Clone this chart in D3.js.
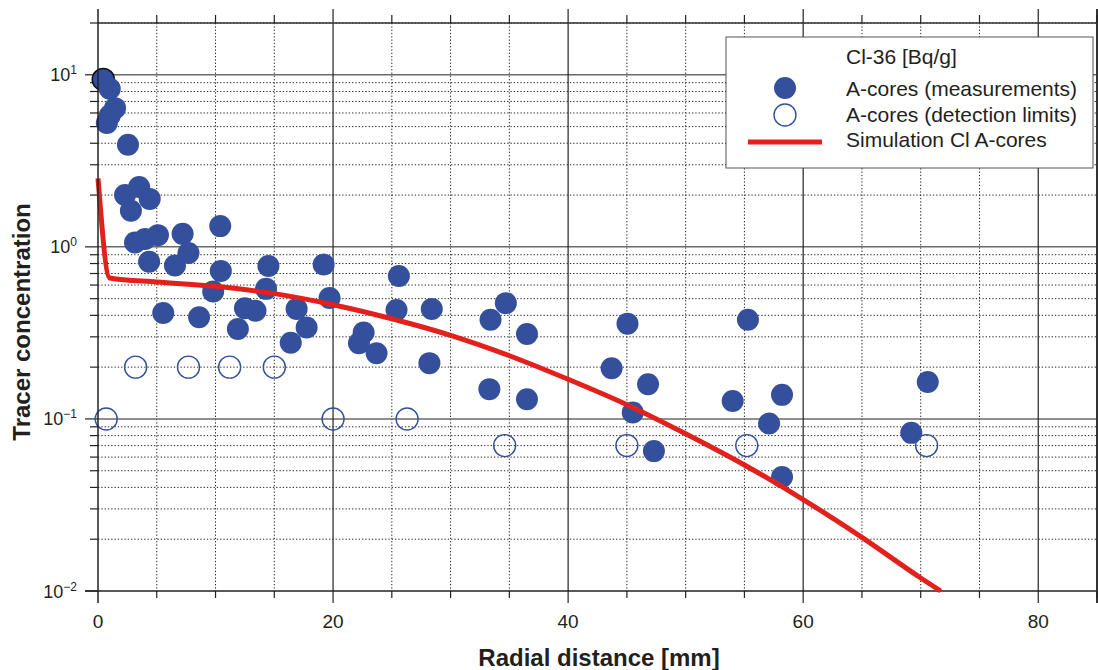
<!DOCTYPE html>
<html>
<head>
<meta charset="utf-8">
<script src="https://cdn.jsdelivr.net/npm/d3@7"></script>
<style>
  body { margin: 0; background: #fff; }
  svg { display: block; font-family: Arial, 'Liberation Sans', sans-serif; }
</style>
</head>
<body>
<div id="chart"></div>
<script>
// measured A-cores (filled markers)
const measX = [0.45, 1.0, 1.45, 1.0, 0.75, 2.55, 2.3, 3.5, 4.4, 2.8, 10.4, 3.15, 4.0, 5.1, 7.2, 7.7,
  4.35, 6.55, 10.45, 9.8, 14.5, 14.3, 5.55, 8.6, 12.5, 13.4, 11.9, 16.9, 16.4, 17.75, 19.2, 19.7,
  25.6, 25.4, 28.4, 22.6, 22.2, 23.7, 28.2, 33.4, 34.7, 36.5, 33.3, 36.5, 45.05, 43.7, 46.8, 45.5,
  47.3, 55.3, 54.0, 58.2, 57.1, 58.2, 70.6, 69.2]
const measY = [9.4, 8.3, 6.4, 5.8, 5.25, 3.92, 2.0, 2.23, 1.9, 1.62, 1.32, 1.06, 1.11, 1.17, 1.19, 0.92,
  0.82, 0.78, 0.725, 0.55, 0.775, 0.57, 0.413, 0.39, 0.44, 0.425, 0.333, 0.436, 0.277, 0.34, 0.79, 0.505,
  0.678, 0.43, 0.435, 0.318, 0.275, 0.241, 0.211, 0.377, 0.471, 0.312, 0.149, 0.13, 0.358, 0.197, 0.159, 0.109,
  0.065, 0.377, 0.127, 0.138, 0.094, 0.046, 0.164, 0.083]

// detection limits (open markers)
const limX = [0.7, 3.2, 7.7, 11.2, 15.0, 20.0, 26.3, 34.6, 45.0, 55.2, 70.5]
const limY = [0.1, 0.2, 0.2, 0.2, 0.2, 0.1, 0.1, 0.07, 0.07, 0.07, 0.07]

// simulation curve
const simX = [0, 1, 5, 10, 15, 20, 25, 30, 35, 40, 45, 50, 55, 60, 65, 70, 71.7]
const simY = [2.5, 0.66, 0.625, 0.59, 0.535, 0.461, 0.382, 0.306, 0.233, 0.17, 0.121, 0.082, 0.054, 0.034, 0.0205, 0.0119, 0.01]

const xMajor = [0, 20, 40, 60, 80]
const yMajor = [0.01, 0.1, 1, 10]
const legendLabels = ['A-cores (measurements)', 'A-cores (detection limits)', 'Simulation Cl A-cores']
const legendTitle = 'Cl-36 [Bq/g]'

const width = 1098
const height = 670
const pLeft = 98, pRight = 1097, pTop = 23, pBottom = 591
const blue = '#34509d'
const red = '#e2211c'
const ink = '#231f20'

const x = d3.scaleLinear().domain([0, 85]).range([pLeft, pRight])
const y = d3.scaleLog().domain([0.01, 20]).range([pBottom, pTop])

const svg = d3.select('#chart').append('svg')
  .attr('width', width)
  .attr('height', height)

const xMinor = d3.range(5, 86, 5).filter(v => !xMajor.includes(v))
const yMinor = []
for (const dec of [0.01, 0.1, 1, 10]) {
  for (let k = 2; k <= 9; k++) {
    const v = +(dec * k).toPrecision(3)
    if (v <= 20) yMinor.push(v)
  }
}

// grid
const grid = svg.append('g')
grid.selectAll('.hmin').data(yMinor).enter().append('line')
  .attr('x1', pLeft).attr('x2', pRight)
  .attr('y1', d => y(d)).attr('y2', d => y(d))
  .attr('stroke', '#222').attr('stroke-width', 1).attr('stroke-dasharray', '1.3,2')
grid.selectAll('.vmin').data(xMinor).enter().append('line')
  .attr('x1', d => x(d)).attr('x2', d => x(d))
  .attr('y1', pTop).attr('y2', pBottom)
  .attr('stroke', '#222').attr('stroke-width', 1).attr('stroke-dasharray', '1.3,2')
grid.selectAll('.hmaj').data(yMajor.slice(1)).enter().append('line')
  .attr('x1', pLeft).attr('x2', pRight)
  .attr('y1', d => y(d)).attr('y2', d => y(d))
  .attr('stroke', '#6a6a6a').attr('stroke-width', 1.5)
grid.selectAll('.vmaj').data(xMajor.slice(1)).enter().append('line')
  .attr('x1', d => x(d)).attr('x2', d => x(d))
  .attr('y1', pTop - 14).attr('y2', pBottom + 12)
  .attr('stroke', '#222').attr('stroke-width', 1.2)

// frame + ticks
grid.append('line').attr('x1', pLeft).attr('x2', pRight).attr('y1', pTop).attr('y2', pTop)
  .attr('stroke', '#333').attr('stroke-width', 1.5)
grid.append('line').attr('x1', pLeft - 13).attr('x2', pRight).attr('y1', pBottom).attr('y2', pBottom)
  .attr('stroke', '#222').attr('stroke-width', 1.5)
grid.append('line').attr('x1', pRight).attr('x2', pRight).attr('y1', pTop - 14).attr('y2', pBottom + 12)
  .attr('stroke', '#333').attr('stroke-width', 2)

grid.selectAll('.tb').data(xMinor).enter().append('line')
  .attr('x1', d => x(d)).attr('x2', d => x(d))
  .attr('y1', pBottom).attr('y2', pBottom + 7)
  .attr('stroke', '#222').attr('stroke-width', 1.2)
grid.selectAll('.tt').data(xMinor).enter().append('line')
  .attr('x1', d => x(d)).attr('x2', d => x(d))
  .attr('y1', pTop).attr('y2', pTop - 8)
  .attr('stroke', '#222').attr('stroke-width', 1.2)
grid.selectAll('.tl').data(yMinor).enter().append('line')
  .attr('x1', pLeft - 8).attr('x2', pLeft)
  .attr('y1', d => y(d)).attr('y2', d => y(d))
  .attr('stroke', '#222').attr('stroke-width', 1.2)
grid.selectAll('.tlm').data(yMajor).enter().append('line')
  .attr('x1', pLeft - 13).attr('x2', pLeft)
  .attr('y1', d => y(d)).attr('y2', d => y(d))
  .attr('stroke', '#222').attr('stroke-width', 1.2)

// tick labels
svg.append('g').selectAll('text').data(xMajor).enter().append('text')
  .attr('x', d => x(d)).attr('y', pBottom + 37)
  .attr('text-anchor', 'middle')
  .attr('font-size', 19).attr('fill', ink)
  .text(d => d)

const yl = svg.append('g').selectAll('text').data(yMajor).enter().append('text')
  .attr('x', 77).attr('y', d => y(d) + 6.5)
  .attr('text-anchor', 'end')
  .attr('font-size', 18).attr('fill', ink)
yl.append('tspan').text('10')
yl.append('tspan').attr('dy', -7).attr('font-size', 12)
  .text(d => String(Math.round(Math.log10(d))).replace('-', '\u2212'))

// axis titles
svg.append('text')
  .attr('x', 599).attr('y', 666)
  .attr('text-anchor', 'middle')
  .attr('font-size', 24).attr('font-weight', 'bold').attr('fill', ink)
  .text('Radial distance [mm]')
svg.append('text')
  .attr('transform', 'translate(30,322) rotate(-90)')
  .attr('text-anchor', 'middle')
  .attr('font-size', 24).attr('font-weight', 'bold').attr('fill', ink)
  .text('Tracer concentration')

// data
const meas = measX.map((v, i) => ({ x: v, y: measY[i] }))
const lims = limX.map((v, i) => ({ x: v, y: limY[i] }))
const sim = simX.map((v, i) => ({ x: v, y: simY[i] }))

svg.append('g').selectAll('circle').data(meas).enter().append('circle')
  .attr('cx', d => x(d.x)).attr('cy', d => y(d.y)).attr('r', 11)
  .attr('fill', blue)
  .attr('stroke', (d, i) => i === 0 ? '#111' : 'none')
  .attr('stroke-width', 1.5)

svg.append('g').selectAll('circle').data(lims).enter().append('circle')
  .attr('cx', d => x(d.x)).attr('cy', d => y(d.y)).attr('r', 11)
  .attr('fill', 'none').attr('stroke', blue).attr('stroke-width', 1.4)

const line = d3.line().x(d => x(d.x)).y(d => y(d.y)).curve(d3.curveMonotoneX)
svg.append('path').datum(sim)
  .attr('d', line)
  .attr('fill', 'none').attr('stroke', red).attr('stroke-width', 5)

// y axis line on top
svg.append('line').attr('x1', pLeft).attr('x2', pLeft).attr('y1', pTop - 14).attr('y2', pBottom + 12)
  .attr('stroke', '#222').attr('stroke-width', 1.5)

// legend
const lg = svg.append('g')
lg.append('rect').attr('x', 726).attr('y', 37).attr('width', 367).attr('height', 131)
  .attr('fill', '#fff').attr('stroke', '#555').attr('stroke-width', 1)
lg.append('text').attr('x', 846).attr('y', 64).attr('font-size', 21).attr('fill', ink).text(legendTitle)
const rows = [96, 122, 147]
lg.selectAll('.lt').data(legendLabels).enter().append('text')
  .attr('x', 846).attr('y', (d, i) => rows[i])
  .attr('font-size', 21).attr('fill', ink)
  .text(d => d)
lg.append('circle').attr('cx', 785).attr('cy', rows[0] - 8).attr('r', 11).attr('fill', blue)
lg.append('circle').attr('cx', 785).attr('cy', rows[1] - 7).attr('r', 11)
  .attr('fill', 'none').attr('stroke', blue).attr('stroke-width', 1.4)
lg.append('line').attr('x1', 748).attr('x2', 822).attr('y1', rows[2] - 5).attr('y2', rows[2] - 5)
  .attr('stroke', red).attr('stroke-width', 5)
</script>
</body>
</html>
